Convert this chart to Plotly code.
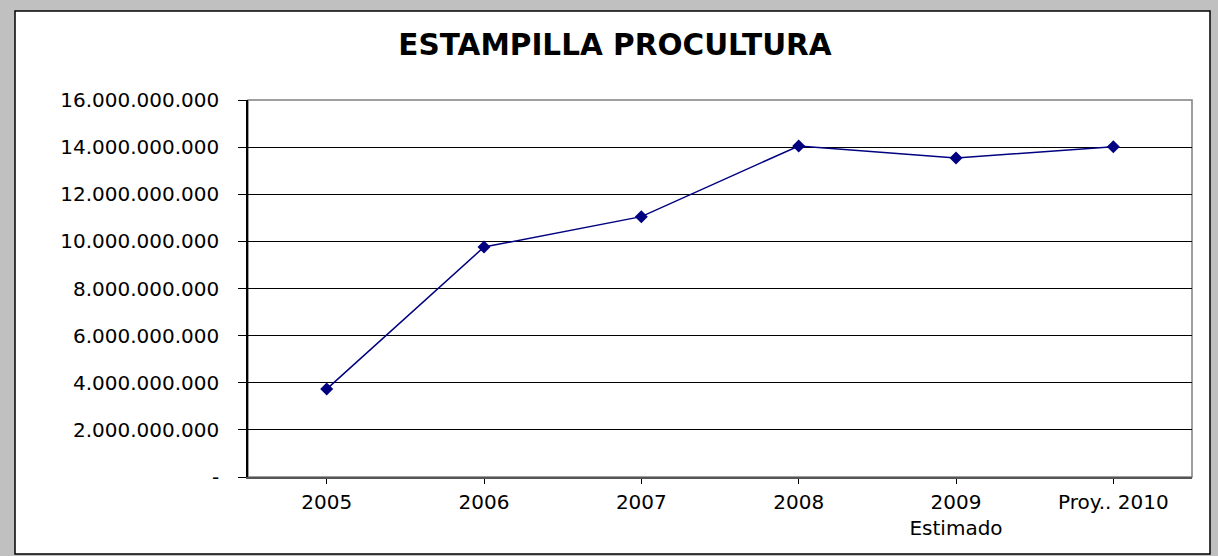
import plotly.graph_objects as go

categories = ["2005", "2006", "2007", "2008", "2009<br>Estimado", "Proy.. 2010"]
values = [3.73e9, 9.76e9, 11.05e9, 14.05e9, 13.54e9, 14.02e9]
y_tickvals = [0, 2e9, 4e9, 6e9, 8e9, 10e9, 12e9, 14e9, 16e9]
y_ticktext = ["-", "2.000.000.000", "4.000.000.000", "6.000.000.000", "8.000.000.000",
              "10.000.000.000", "12.000.000.000", "14.000.000.000", "16.000.000.000"]
title_text = "ESTAMPILLA PROCULTURA"

W, H = 1218, 556
L, R, T, B = 248, 1192, 100, 477
pw, ph = R - L, B - T

def px(x):
    return (x - L) / pw

def py(y):
    return (B - y) / ph

fig = go.Figure()
fig.add_trace(go.Scatter(
    x=list(range(len(categories))), y=values, mode="lines+markers",
    line=dict(color="#000080", width=1.5),
    marker=dict(symbol="diamond", size=10, color="#000080"),
    showlegend=False, hoverinfo="skip"
))

shapes = [
    dict(type="rect", xref="paper", yref="paper", layer="below",
         x0=px(15), x1=px(1210), y0=py(554), y1=py(11),
         fillcolor="white", line=dict(color="black", width=1.5)),
    dict(type="rect", xref="paper", yref="paper", layer="below",
         x0=0, x1=1, y0=0, y1=1, line=dict(color="#808080", width=1.5)),
]

fig.update_layout(
    width=W, height=H,
    margin=dict(l=L, r=W - R, t=T, b=H - B, autoexpand=False),
    paper_bgcolor="#c0c0c0",
    plot_bgcolor="white",
    shapes=shapes,
    title=dict(text="<b>" + title_text + "</b>", xref="container", yref="container",
               x=615 / W, y=1 - 45 / H, xanchor="center", yanchor="middle",
               font=dict(family="DejaVu Sans", size=29.5, color="black")),
    font=dict(family="DejaVu Sans", color="black"),
)

fig.update_xaxes(
    range=[-0.5, len(categories) - 0.5],
    tickmode="array", tickvals=list(range(len(categories))), ticktext=categories,
    tickson="boundaries", ticks="outside", ticklen=5, tickcolor="black",
    showline=True, linecolor="#555555", linewidth=2,
    showgrid=False, zeroline=False,
    tickfont=dict(family="DejaVu Sans", size=20, color="black"),
    ticklabelstandoff=1,
)
fig.update_yaxes(
    range=[0, 16e9],
    tickmode="array", tickvals=y_tickvals, ticktext=y_ticktext,
    ticks="outside", ticklen=8, tickcolor="black",
    showline=True, linecolor="black", linewidth=1.5,
    showgrid=True, gridcolor="black", gridwidth=1,
    zeroline=False,
    tickfont=dict(family="DejaVu Sans", size=20, color="black"),
    ticklabelstandoff=15,
)

fig.write_html("out.html", config={"displayModeBar": False},
               post_script="document.body.style.margin='0';document.body.style.padding='0';")
